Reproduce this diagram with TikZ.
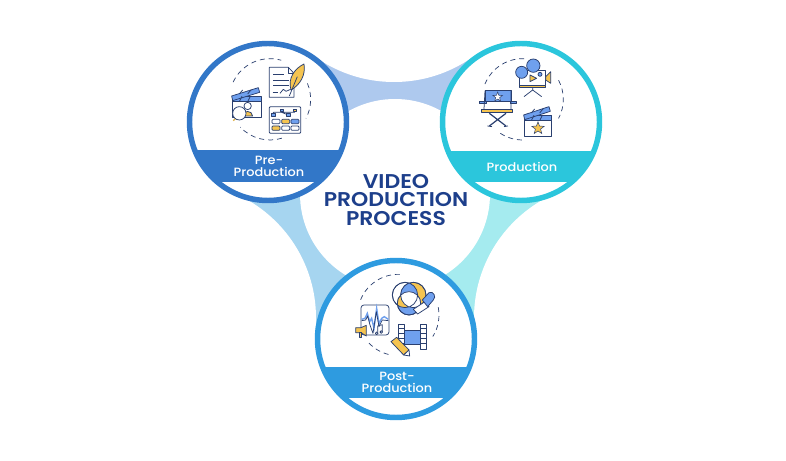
\documentclass[tikz,border=0pt]{standalone}
\usepackage{fontspec}
\setmainfont{Poppins}
\newfontfamily\bandfont[FakeStretch=1.08]{Poppins Medium}
\newfontfamily\titlefont[FakeStretch=1.1,BoldFont=Poppins SemiBold]{Poppins SemiBold}
\usetikzlibrary{shapes.geometric}
\definecolor{PreBlue}{RGB}{50,119,200}
\definecolor{ProdCyan}{RGB}{43,198,220}
\definecolor{PostBlue}{RGB}{46,155,224}
\definecolor{BandTop}{RGB}{174,201,238}
\definecolor{BandLeft}{RGB}{166,213,240}
\definecolor{BandRight}{RGB}{165,235,239}
\definecolor{TitleNavy}{RGB}{29,63,139}
\definecolor{IconNavy}{RGB}{42,63,111}
\definecolor{IconBlue}{RGB}{111,160,238}
\definecolor{IconGold}{RGB}{245,196,80}
\tikzset{
	ring/.style={draw=#1,line width=5.5pt},
	dashring/.style={draw=IconNavy,line width=0.7pt,dash pattern=on 5pt off 4pt},
	ic/.style={draw=IconNavy,line width=0.75pt,line join=round},
	bandlabel/.style={text=white,font=\bandfont\fontsize{12}{12}\selectfont,align=center,inner sep=0pt},
	titlelabel/.style={text=TitleNavy,font=\titlefont\fontsize{20}{19}\selectfont,align=center,inner sep=0pt},
	zoomed/.style={shift={#1},x=0.3333bp,y=-0.3333bp},
}
\newcommand{\clapboard}[4]{% left, top of body, right, bottom
	\draw[ic,fill=white] (#1,#2) rectangle (#3,#4);
	\draw[ic,fill=IconBlue] (#1,#2) rectangle (#3,#2-16);
	\draw[ic,fill=IconBlue] (#1-3,#2-17) -- (#3-8,#2-42) -- (#3-4,#2-28) -- (#1,#2-3) -- cycle;
	\foreach \s in {20,45} {
		\draw[ic] (#1+\s,#2) -- (#1+\s+8,#2-16);
		\draw[ic] (#1+\s,#2-23) -- (#1+\s+10,#2-35);
	}
}
\begin{document}
\begin{tikzpicture}[x=1bp,y=-1bp]
	\useasboundingbox (0,0) rectangle (786,461);
	\coordinate (pre) at (268,122);
	\coordinate (prod) at (521,122);
	\coordinate (post) at (396,339);
	\coordinate (mid) at (395,194);
	\coordinate (capT) at (394,-54);
	\coordinate (capL) at (180,318);
	\coordinate (capR) at (610,318);
	% bands between the circles
	\fill[BandTop] (mid) -- (pre) -- (capT) -- (prod) -- cycle;
	\fill[BandLeft] (mid) -- (pre) -- (capL) -- (post) -- cycle;
	\fill[BandRight] (mid) -- (prod) -- (capR) -- (post) -- cycle;
	\foreach \c in {capT,capL,capR}
	\fill[white] (\c) circle [radius=136];
	\fill[white] (mid) circle [radius=95];
	% the three circles
	\foreach \c/\col/\top/\bot in {pre/PreBlue/150/182,prod/ProdCyan/151/182,post/PostBlue/367/398} {
		\fill[white] (\c) circle [radius=79];
		\begin{scope}
			\clip (\c) circle [radius=79];
			\fill[\col] (100,\top) rectangle (700,\bot);
		\end{scope}
		\draw[ring=\col] (\c) circle [radius=78.5];
	}
	\node[titlelabel] (title) at (396,200) {VIDEO\\PRODUCTION\\PROCESS};
	\node[bandlabel] (preLabel) at (269,166) {Pre-\\Production};
	\node[bandlabel] (prodLabel) at (522,167) {Production};
	\node[bandlabel] (postLabel) at (397,382) {Post-\\Production};
	% pre-production icons
	\begin{scope}[zoomed={(180,30)}]
		\foreach \a/\b in {205/286,-23/28,73/137}
		\draw[dashring] ([shift={(\a:122)}]270,208) arc (\a:\b:122);
		\draw[ic,fill=white] (268,112) -- (325,112) -- (342,130) -- (342,202) -- (268,202) -- cycle;
		\draw[ic] (325,112) -- (325,130) -- (342,130);
		\draw[ic] (280,133) -- (312,133) (280,150) -- (327,150) (280,165) -- (327,165) (278,188) -- (295,188);
		\draw[ic] (300,190) -- (310,178) -- (318,184) -- (332,178);
		\draw[ic,fill=IconGold] (333,180) .. controls (322,145) and (345,115) .. (372,102) .. controls (378,135) and (360,165) .. (333,180) -- cycle;
		\draw[ic] (328,198) -- (352,140);
		\clapboard{158}{215}{243}{263}
		\draw[ic,fill=IconGold] (188,258) .. controls (190,240) and (216,240) .. (218,258) -- cycle;
		\draw[ic,fill=white] (203,228) circle [radius=11];
		\draw[ic,line width=1.2pt,IconGold!90!black] (170,262) -- (160,272);
		\draw[ic,fill=white] (178,250) circle [radius=20];
		\draw[ic,fill=white,rounded corners=1pt] (268,230) rectangle (362,310);
		\draw[ic] (280,255) -- (280,247) -- (345,247) (305,247) -- (325,255);
		\foreach \x/\y/\f in {305/241/IconBlue,345/241/IconGold,280/255/IconBlue,325/255/IconBlue}
		\draw[ic,fill=\f] (\x-5,\y-4) rectangle (\x+5,\y+4);
		\foreach \x/\y/\f in {276/268/white,305/268/IconGold,333/268/IconBlue,276/288/IconGold,305/288/white,333/288/white}
		\draw[ic,fill=\f,rounded corners=1pt] (\x,\y) rectangle (\x+24,\y+13);
	\end{scope}
	% production icons
	\begin{scope}[zoomed={(430,30)}]
		\foreach \a/\b in {202/276,-28/28,91/128}
		\draw[dashring] ([shift={(\a:122)}]278,208) arc (\a:\b:122);
		\draw[ic,fill=white] (268,120) rectangle (347,165);
		\draw[ic,fill=IconGold] (268,165) rectangle (347,172);
		\draw[ic,fill=IconBlue] (275,127) circle [radius=18];
		\draw[ic,fill=IconBlue] (310,107) circle [radius=20];
		\draw[ic,fill=IconBlue] (330,133) circle [radius=6];
		\draw[ic,fill=IconGold] (300,135) -- (320,145) -- (300,155) -- cycle;
		\draw[ic,fill=IconGold] (347,140) -- (362,125) -- (362,160) -- (347,150) -- cycle;
		\draw[ic] (308,172) -- (308,180) (282,200) -- (308,180) -- (335,200);
		\draw[ic,fill=IconBlue] (165,182) rectangle (243,215);
		\node[star,star points=5,star point ratio=2.4,fill=white,draw=IconNavy,line width=0.5pt,minimum size=10pt,inner sep=0pt] (chairStar) at (203,201) {};
		\draw[ic,fill=IconBlue] (148,214) rectangle (168,221);
		\draw[ic,fill=IconBlue] (240,214) rectangle (258,221);
		\draw[ic] (165,182) -- (162,238) (243,182) -- (243,238);
		\draw[ic,fill=IconGold] (155,238) rectangle (248,248);
		\draw[ic,line width=1.2pt] (178,250) -- (228,288) (228,250) -- (178,288);
		\draw[ic] (172,288) -- (186,290) (222,290) -- (234,288);
		\clapboard{284}{272}{365}{318}
		\node[star,star points=5,star point ratio=2.4,fill=IconGold,draw=IconNavy,line width=0.5pt,minimum size=13pt,inner sep=0pt] (clapStar) at (324,295) {};
	\end{scope}
	% post-production icons
	\begin{scope}[zoomed={(305,250)}]
		\foreach \a/\b in {202/277,-11/32,104/138}
		\draw[dashring] ([shift={(\a:122)}]280,195) arc (\a:\b:122);
		\draw[ic,fill=white] (300,135) circle [radius=38];
		\draw[ic,fill=IconGold] (325,135) circle [radius=38];
		\draw[ic,fill=IconBlue] (312,160) circle [radius=35];
		\begin{scope}
			\clip (300,135) circle [radius=38];
			\fill[IconBlue] (325,135) circle [radius=38];
			\fill[IconGold] (312,160) circle [radius=35];
			\begin{scope}
				\clip (325,135) circle [radius=38];
				\fill[white] (312,160) circle [radius=35];
			\end{scope}
		\end{scope}
		\begin{scope}
			\clip (325,135) circle [radius=38];
			\fill[white] (312,160) circle [radius=35];
		\end{scope}
		\draw[ic] (300,135) circle [radius=38] (325,135) circle [radius=38] (312,160) circle [radius=35];
		\draw[ic,fill=white] (325,178) -- (360,155) -- (372,170) -- (338,192) -- cycle;
		\draw[ic,fill=IconBlue] (352,150) -- (372,128) .. controls (385,122) and (395,140) .. (385,150) -- (368,170) -- cycle;
		\draw[ic,fill=white,rounded corners=3pt] (168,255) -- (168,165) -- (252,165) -- (252,255) -- cycle;
		\draw[IconBlue,line width=1.4pt] (170,208) -- (180,205) -- (187,190) -- (194,215) -- (200,205) -- (207,235) -- (215,175) -- (222,222) -- (230,205) -- (238,200) -- (250,208);
		\draw[ic] (170,212) -- (182,210) -- (188,198) -- (195,225) -- (204,250) -- (214,185) -- (222,230) -- (232,210) -- (250,212);
		\draw[ic] (218,250) -- (218,228) -- (232,224) -- (232,246);
		\draw[ic,fill=white] (215,250) circle [radius=4] (229,246) circle [radius=4];
		\draw[ic,fill=IconGold] (152,233) -- (168,233) -- (184,226) -- (184,258) -- (168,248) -- (152,248) -- cycle;
		\draw[ic,fill=IconGold] (162,248) rectangle (170,262);
		\draw[ic,fill=white] (280,222) rectangle (298,298);
		\draw[ic,fill=white] (347,222) rectangle (365,298);
		\draw[ic,fill=IconBlue] (298,240) rectangle (347,282);
		\foreach \y in {235,250,265,280}
		\draw[ic] (280,\y) -- (298,\y) (347,\y) -- (365,\y);
		\draw[ic,fill=IconGold] (258,275) -- (275,262) -- (312,300) -- (296,315) -- cycle;
		\draw[ic,fill=white] (312,300) -- (314,318) -- (296,315) -- cycle;
	\end{scope}
\end{tikzpicture}
\end{document}
